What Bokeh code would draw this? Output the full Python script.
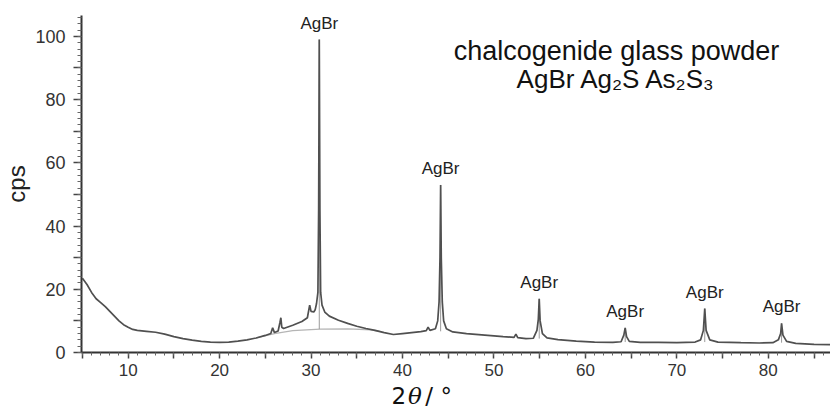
from bokeh.plotting import figure
from bokeh.layouts import column
from bokeh.models import FixedTicker, Label, LabelSet, ColumnDataSource, Range1d
from bokeh.core.properties import value
from bokeh.embed import file_html
from bokeh.resources import INLINE

# ---- data ----
two_theta = [5.0, 5.5, 6.0, 6.5, 7.0, 7.5, 8.0, 8.5, 9.0, 9.5, 10.0, 10.5, 11.0, 12.0, 13.0,
             14.0, 15.0, 16.0, 17.0, 18.0, 19.0, 20.0, 21.0, 22.0, 23.0, 24.0, 25.0, 25.6,
             25.8, 26.0, 26.4, 26.6, 26.7, 26.8, 27.0, 28.0, 29.0, 29.6, 29.85, 30.0, 30.3,
             30.45, 30.6, 30.75, 30.83, 30.9, 30.97, 31.05, 31.2, 31.5, 32.0, 33.0, 34.0,
             35.0, 36.0, 37.0, 38.0, 39.0, 40.0, 41.0, 42.0, 42.6, 42.8, 43.0, 43.6, 43.85,
             44.0, 44.1, 44.17, 44.24, 44.35, 44.5, 44.8, 45.5, 47.0, 49.0, 51.0, 52.2, 52.4,
             52.6, 53.5, 54.3, 54.7, 54.85, 54.95, 55.05, 55.3, 55.8, 57.0, 59.0, 61.0, 63.0,
             63.9, 64.2, 64.35, 64.5, 64.8, 66.0, 68.0, 70.0, 72.0, 72.6, 72.9, 73.05, 73.2,
             73.6, 74.5, 77.0, 79.0, 80.5, 81.1, 81.35, 81.45, 81.6, 82.0, 83.0, 85.0, 86.8]
cps = [23.5, 21.5, 19.0, 17.0, 15.8, 14.5, 13.0, 11.5, 10.0, 8.8, 8.0, 7.3, 7.0, 6.7, 6.4,
       5.8, 5.0, 4.4, 3.9, 3.5, 3.3, 3.2, 3.3, 3.6, 4.0, 4.6, 5.4, 6.0,
       7.8, 6.3, 6.8, 9.5, 11.0, 8.0, 7.6, 8.6, 9.8, 11.0, 15.0, 13.0, 12.8,
       13.5, 15.5, 19.0, 45.0, 99.0, 45.0, 19.0, 15.0, 12.8, 11.5, 10.2, 9.2,
       8.3, 7.6, 7.0, 6.3, 5.7, 6.0, 6.3, 6.6, 6.9, 8.0, 7.0, 7.5, 10.0,
       16.0, 30.0, 53.0, 30.0, 16.0, 10.0, 7.5, 6.5, 6.0, 5.5, 5.0, 4.8, 5.8,
       4.7, 4.4, 4.5, 7.0, 10.5, 17.0, 10.0, 6.0, 4.6, 4.1, 3.6, 3.3, 3.2,
       3.4, 5.5, 7.8, 5.0, 3.5, 3.2, 3.2, 3.1, 3.3, 4.0, 7.0, 13.9, 7.0,
       4.0, 3.3, 3.1, 3.0, 3.1, 4.0, 6.0, 9.2, 5.5, 3.5, 2.9, 2.6, 2.5]

# fitted amorphous background under the main reflection
bg_theta = [24.0, 26.0, 28.0, 31.0, 34.0, 36.5, 37.5]
bg_cps = [4.6, 6.0, 6.9, 7.4, 7.5, 7.2, 6.7]

# AgBr reflections
peak_theta = [30.9, 44.17, 54.95, 64.35, 73.05, 81.45]
peak_cps = [99.0, 53.0, 17.0, 7.8, 13.9, 9.2]
peak_base = [7.4, 6.7, 4.4, 3.3, 3.3, 3.1]
peak_name = ["AgBr", "AgBr", "AgBr", "AgBr", "AgBr", "AgBr"]

x_ticks = [5, 10, 15, 20, 25, 30, 35, 40, 45, 50, 55, 60, 65, 70, 75, 80, 85]
y_ticks = [0, 10, 20, 30, 40, 50, 60, 70, 80, 90, 100]

title_line1 = "chalcogenide glass powder"
title_line2 = "AgBr Ag\u2082S As\u2082S\u2083"
x_title = ["2", "\u03b8", "/ \u00b0"]
y_title = "cps"

# ---- main figure ----
p = figure(width=830, height=384, x_range=Range1d(4.9, 86.8), y_range=Range1d(0, 106.6),
           output_backend="svg", toolbar_location=None,
           min_border_left=74, min_border_right=0, min_border_top=15, min_border_bottom=32)
p.grid.visible = False
p.outline_line_color = None

p.line(bg_theta, bg_cps, line_color="#b5b5b5", line_width=1.3)
p.segment(x0=peak_theta, y0=peak_base, x1=peak_theta, y1=peak_cps,
          line_color="#9a9a9a", line_width=1)
p.line(two_theta, cps, line_color="#505050", line_width=1.7)

ax = p.xaxis[0]
ax.ticker = FixedTicker(ticks=x_ticks, minor_ticks=list(range(5, 87)))
ax.major_label_overrides = {t: "" for t in x_ticks if t % 10 != 0}
ax.major_tick_out = 6
ax.major_tick_in = 0
ax.minor_tick_out = 3
ax.minor_tick_in = 0
ax.major_label_standoff = 5
ay = p.yaxis[0]
ay.ticker = FixedTicker(ticks=y_ticks, minor_ticks=list(range(0, 107, 2)))
ay.major_label_overrides = {t: "" for t in y_ticks if t % 20 != 0}
ay.major_tick_out = 8
ay.major_tick_in = 0
ay.minor_tick_out = 4
ay.minor_tick_in = 0
ay.major_label_standoff = 8
ay.axis_label = y_title
ay.axis_label_standoff = 2
ay.axis_label_text_font = "Liberation Sans"
ay.axis_label_text_font_style = "normal"
ay.axis_label_text_font_size = "24px"
ay.axis_label_text_color = "#222222"
for a in (ax, ay):
    a.axis_line_color = "#333333"
    a.axis_line_width = 2
    a.major_tick_line_color = "#444444"
    a.minor_tick_line_color = "#666666"
    a.major_tick_line_width = 1.5
    a.major_label_text_font = "Liberation Sans"
    a.major_label_text_color = "#333333"
ax.major_label_text_font_size = "17px"
ay.major_label_text_font_size = "18px"

# peak labels
src = ColumnDataSource(dict(x=peak_theta, y=peak_cps, t=peak_name))
p.add_layout(LabelSet(x="x", y="y", text="t", source=src, y_offset=11,
                      text_align="center", text_baseline="alphabetic",
                      text_font=value("Liberation Sans"), text_font_size=value("17px"),
                      text_color="#222222"))

# sample annotation
p.add_layout(Label(x=63.4, y=95.5, text=title_line1, text_align="center", text_baseline="alphabetic",
                   text_font="Liberation Sans", text_font_size="27px", text_color="#111111"))
p.add_layout(Label(x=63.4, y=86.5, text=title_line2, text_align="center", text_baseline="alphabetic",
                   text_font="Liberation Sans", text_font_size="26px", text_color="#111111"))

# ---- strip below holding the x-axis title ----
q = figure(width=830, height=30, x_range=p.x_range, y_range=Range1d(0, 1),
           output_backend="svg", toolbar_location=None, x_axis_type=None, y_axis_type=None,
           min_border_left=74, min_border_right=0, min_border_top=0, min_border_bottom=0)
q.grid.visible = False
q.outline_line_color = None
ty = 0.62
q.text(x=[38.8], y=[ty], text=[x_title[0]], text_align="left", text_baseline="alphabetic",
       text_font=value("DejaVu Sans"), text_font_size="23px", text_color="#111111")
q.text(x=[40.6], y=[ty], text=[x_title[1]], text_align="left", text_baseline="alphabetic",
       text_font=value("DejaVu Serif"), text_font_style="italic", text_font_size="23px",
       text_color="#111111")
q.text(x=[42.5], y=[ty], text=[x_title[2]], text_align="left", text_baseline="alphabetic",
       text_font=value("DejaVu Sans"), text_font_size="23px", text_color="#111111")

layout = column(p, q, spacing=0)
open("out.html", "w").write(file_html(layout, INLINE))
